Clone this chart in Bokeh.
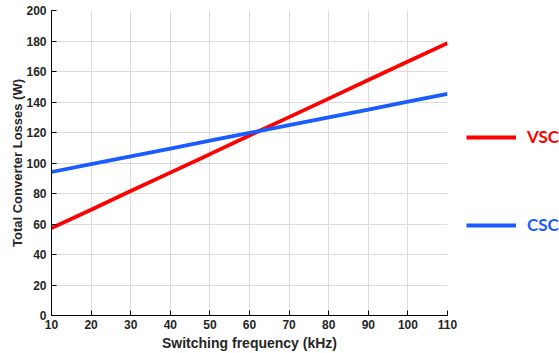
from bokeh.plotting import figure
from bokeh.layouts import row
from bokeh.models import Legend, LegendItem, FixedTicker, Range1d
from bokeh.embed import file_html
from bokeh.resources import INLINE

freq_khz = [10, 20, 30, 40, 50, 60, 70, 80, 90, 100, 110]
vsc_losses = [57.3, 69.4, 81.6, 93.7, 105.8, 118.0, 130.1, 142.2, 154.4, 166.5, 178.6]
csc_losses = [94.1, 99.2, 104.3, 109.5, 114.6, 119.7, 124.8, 129.9, 135.0, 140.2, 145.3]
x_ticks = [10, 20, 30, 40, 50, 60, 70, 80, 90, 100, 110]
y_ticks = [0, 20, 40, 60, 80, 100, 120, 140, 160, 180, 200]
series_names = ["VSC", "CSC"]

RED = "#ff0000"
BLUE = "#1a5cff"
H = 353

p = figure(width=462, height=H, output_backend="svg", toolbar_location=None,
           x_range=Range1d(10, 110), y_range=Range1d(0, 200),
           min_border_left=51, min_border_right=15, min_border_top=10, min_border_bottom=38)
p.outline_line_color = None

p.line(freq_khz, vsc_losses, line_color=RED, line_width=3.8)
p.line(freq_khz, csc_losses, line_color=BLUE, line_width=3.8)

for ax in (p.xaxis[0], p.yaxis[0]):
    ax.axis_line_color = "black"
    ax.axis_line_width = 1
    ax.major_tick_in = 5
    ax.major_tick_out = 0
    ax.major_tick_line_color = "black"
    ax.minor_tick_line_color = None
    ax.major_label_text_font = "Liberation Sans"
    ax.major_label_text_font_style = "bold"
    ax.major_label_text_font_size = "12px"
    ax.major_label_text_color = "#262626"
    ax.axis_label_text_font = "Liberation Sans"
    ax.axis_label_text_font_style = "bold"
    ax.axis_label_text_color = "#262626"

p.xaxis[0].axis_label_text_font_size = "14px"
p.yaxis[0].axis_label_text_font_size = "13px"
p.xaxis[0].ticker = FixedTicker(ticks=x_ticks)
p.yaxis[0].ticker = FixedTicker(ticks=y_ticks)
p.xaxis[0].axis_label = "Switching frequency (kHz)"
p.yaxis[0].axis_label = "Total Converter Losses (W)"
p.xaxis[0].major_label_standoff = 4
p.xaxis[0].axis_label_standoff = 3
p.yaxis[0].major_label_standoff = 5
p.yaxis[0].axis_label_standoff = -2

for g in (p.xgrid[0], p.ygrid[0]):
    g.grid_line_color = "#dcdcdc"
    g.grid_line_width = 1

# legend panel: a second figure whose (out-of-view) copies of the series supply legend samples
pl = figure(width=559 - 462, height=H, output_backend="svg", toolbar_location=None,
            x_range=Range1d(0, 1), y_range=Range1d(0, 1),
            min_border_left=0, min_border_right=0, min_border_top=0, min_border_bottom=0)
pl.axis.visible = False
pl.grid.visible = False
pl.outline_line_color = None
r_vsc = pl.line(freq_khz, vsc_losses, line_color=RED, line_width=4)
r_csc = pl.line(freq_khz, csc_losses, line_color=BLUE, line_width=4)

def mk_legend(label, renderer, color, loc):
    return Legend(items=[LegendItem(label=label, renderers=[renderer])], location=loc,
                  glyph_width=50, glyph_height=20, label_height=20, label_standoff=11,
                  padding=0, margin=0, spacing=0,
                  background_fill_alpha=0, border_line_alpha=0,
                  label_text_font="Lato", label_text_font_style="bold",
                  label_text_font_size="17px", label_text_color=color)

pl.add_layout(mk_legend(series_names[0], r_vsc, RED, (4, 168)), "center")
pl.add_layout(mk_legend(series_names[1], r_csc, BLUE, (4, 80)), "center")

layout = row(p, pl, spacing=0)
open("out.html", "w").write(file_html(layout, INLINE))
